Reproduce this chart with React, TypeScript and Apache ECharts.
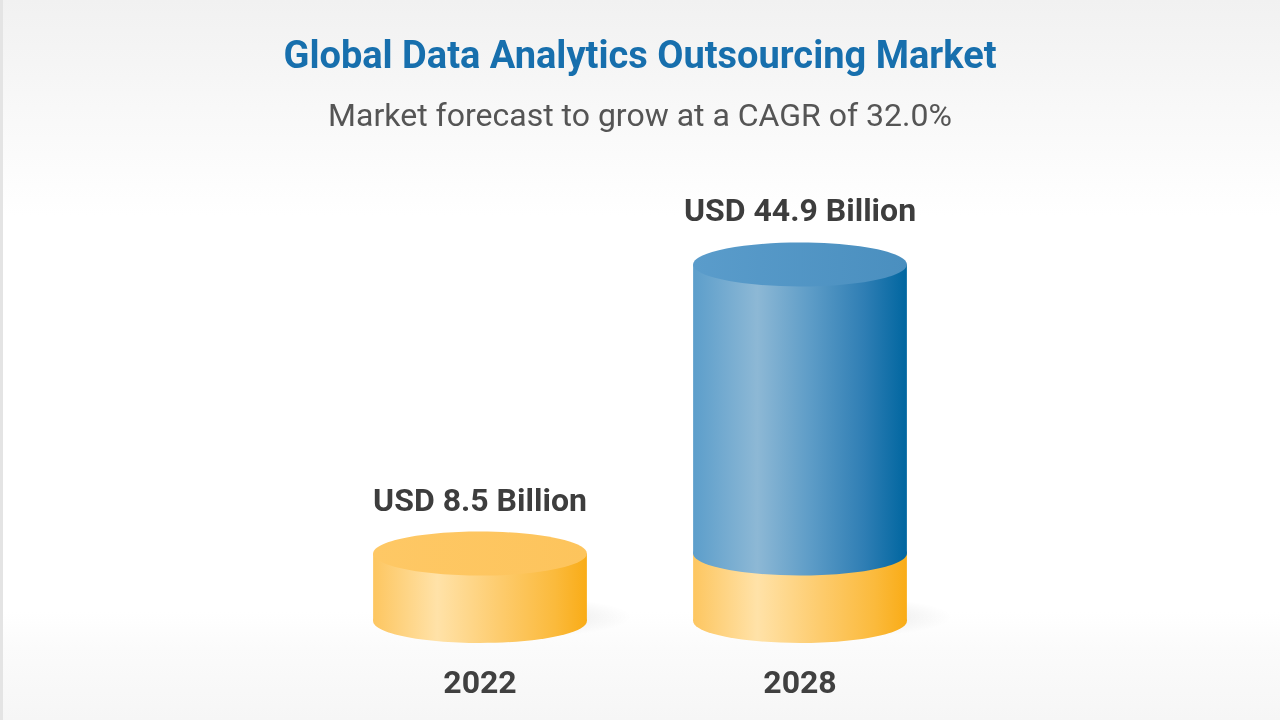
import React, { useEffect, useRef } from 'react';
import * as echarts from 'echarts';

const categories = ['2022', '2028'];
const marketValues = [8.5, 44.9];
const valueLabels = ['USD 8.5 Billion', 'USD 44.9 Billion'];
const titleText = 'Global Data Analytics Outsourcing Market';
const subtitleText = 'Market forecast to grow at a CAGR of 32.0%';

const FONT = 'Roboto, "Noto Sans", sans-serif';

const yellowBody = new echarts.graphic.LinearGradient(0, 0, 1, 0, [
  { offset: 0, color: '#fdc660' },
  { offset: 0.3, color: '#ffe2a8' },
  { offset: 0.6, color: '#fdcb6c' },
  { offset: 0.85, color: '#fbba3c' },
  { offset: 1, color: '#f9ac17' },
]);
const yellowTop = new echarts.graphic.LinearGradient(0, 0, 1, 0, [
  { offset: 0, color: '#fec865' },
  { offset: 1, color: '#fdc45c' },
]);
const blueBody = new echarts.graphic.LinearGradient(0, 0, 1, 0, [
  { offset: 0, color: '#5c9ecb' },
  { offset: 0.3, color: '#8db8d5' },
  { offset: 0.55, color: '#5d9cc7' },
  { offset: 0.8, color: '#2f7eb4' },
  { offset: 1, color: '#0066a0' },
]);
const blueTop = new echarts.graphic.LinearGradient(0, 0, 1, 0, [
  { offset: 0, color: '#5a9ccb' },
  { offset: 1, color: '#4a8fbf' },
]);

const App: React.FC = () => {
  const chartRef = useRef<HTMLDivElement>(null);

  useEffect(() => {
    if (!chartRef.current) return;
    const chart = echarts.init(chartRef.current, undefined, { renderer: 'svg' });
    const base = marketValues[0];

    const renderItem = (params: any, api: any) => {
      const idx = api.value(0);
      const total = api.value(1);
      const [cx, yTop] = api.coord([idx, total]);
      const [, yBottom] = api.coord([idx, 0]);
      const [, yBase] = api.coord([idx, Math.min(base, total)]);
      const rx = api.size([1, 0])[0] * 0.334;
      const ry = 22;
      const children: any[] = [
        {
          type: 'ellipse',
          shape: { cx: cx + 45, cy: yBottom - 4, rx: rx, ry: 20 },
          style: {
            fill: new echarts.graphic.RadialGradient(0.5, 0.5, 0.5, [
              { offset: 0, color: 'rgba(0,0,0,0.10)' },
              { offset: 1, color: 'rgba(0,0,0,0)' },
            ]),
          },
        },
        { type: 'ellipse', shape: { cx, cy: yBottom, rx, ry }, style: { fill: yellowBody } },
        {
          type: 'rect',
          shape: { x: cx - rx, y: yBase, width: rx * 2, height: yBottom - yBase },
          style: { fill: yellowBody },
        },
      ];
      if (total > base) {
        children.push(
          { type: 'ellipse', shape: { cx, cy: yBase, rx, ry }, style: { fill: blueBody } },
          {
            type: 'rect',
            shape: { x: cx - rx, y: yTop, width: rx * 2, height: yBase - yTop },
            style: { fill: blueBody },
          },
          { type: 'ellipse', shape: { cx, cy: yTop, rx, ry }, style: { fill: blueTop } }
        );
      } else {
        children.push({ type: 'ellipse', shape: { cx, cy: yTop, rx, ry }, style: { fill: yellowTop } });
      }
      children.push({
        type: 'text',
        style: {
          text: valueLabels[idx],
          x: cx,
          y: yTop - ry - 32,
          textAlign: 'center',
          textVerticalAlign: 'middle',
          fontFamily: FONT,
          fontWeight: 'bold',
          fontSize: 32,
          fill: '#3d3d3d',
        },
      });
      return { type: 'group', children };
    };

    chart.setOption({
      animation: false,
      graphic: [
        {
          type: 'rect',
          z: -10,
          silent: true,
          shape: { x: 0, y: 0, width: 1280, height: 720 },
          style: {
            fill: new echarts.graphic.LinearGradient(0, 0, 0, 1, [
              { offset: 0, color: '#f1f1f1' },
              { offset: 0.3, color: '#ffffff' },
              { offset: 0.85, color: '#ffffff' },
              { offset: 0.9, color: '#fbfbfb' },
              { offset: 1, color: '#f6f6f6' },
            ]),
          },
        },
        {
          type: 'rect',
          z: -9,
          silent: true,
          shape: { x: 0, y: 0, width: 3, height: 720 },
          style: { fill: '#e4e4e4' },
        },
      ],
      title: [
        {
          text: titleText,
          left: 'center',
          top: 31,
          textStyle: { fontFamily: FONT, fontSize: 38, fontWeight: 'bold', color: '#176fad' },
        },
        {
          text: subtitleText,
          left: 'center',
          top: 94,
          textStyle: { fontFamily: FONT, fontSize: 32, fontWeight: 'normal', color: '#555555' },
        },
      ],
      grid: { left: 320, right: 320, top: 224, bottom: 99 },
      xAxis: {
        type: 'category',
        data: categories,
        axisLine: { show: false },
        axisTick: { show: false },
        axisLabel: {
          margin: 45,
          fontFamily: FONT,
          fontSize: 32,
          fontWeight: 'bold',
          color: '#404040',
        },
      },
      yAxis: {
        type: 'value',
        min: 0,
        max: 50,
        show: false,
        splitLine: { show: false },
      },
      series: [
        {
          type: 'custom',
          renderItem,
          encode: { x: 0, y: 1 },
          data: marketValues.map((v, i) => [i, v]),
          clip: false,
        },
      ],
    });

    return () => {
      chart.dispose();
    };
  }, []);

  return (
    <div
      ref={chartRef}
      style={{ position: 'fixed', left: 0, top: 0, width: '1280px', height: '720px' }}
    ></div>
  );
};

export default App;
